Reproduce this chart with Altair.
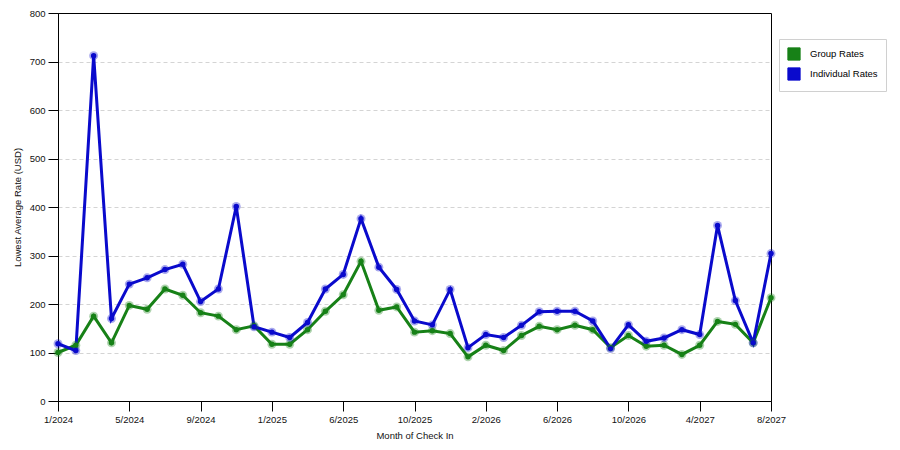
import altair as alt
import pandas as pd

months = [
    "1/2024", "2/2024", "3/2024", "4/2024", "5/2024", "6/2024", "7/2024",
    "8/2024", "9/2024", "10/2024", "11/2024", "12/2024", "1/2025", "2/2025",
    "4/2025", "5/2025", "6/2025", "7/2025", "8/2025", "9/2025", "10/2025",
    "11/2025", "12/2025", "1/2026", "2/2026", "3/2026", "4/2026", "5/2026",
    "6/2026", "7/2026", "8/2026", "9/2026", "10/2026", "11/2026", "1/2027",
    "3/2027", "4/2027", "5/2027", "6/2027", "7/2027", "8/2027",
]
tick_labels = months[::4]

group_rates = [
    100, 115, 175, 120, 197, 189, 231, 218, 182, 175, 147, 155, 117, 117,
    147, 185, 219, 288, 187, 194, 142, 145, 139, 91, 115, 104, 135, 154,
    147, 156, 147, 110, 135, 113, 115, 96, 115, 164, 158, 120, 213,
]
individual_rates = [
    118, 104, 712, 170, 241, 254, 271, 282, 205, 231, 401, 153, 142, 131,
    162, 231, 261, 376, 276, 230, 165, 157, 230, 110, 137, 131, 156, 184,
    185, 185, 165, 108, 157, 123, 130, 147, 137, 362, 207, 120, 304,
]

series = ["Group Rates", "Individual Rates"]
colors = ["#178117", "#0a0acc"]

df = pd.concat([
    pd.DataFrame({"month": months, "series": series[0], "rate": group_rates}),
    pd.DataFrame({"month": months, "series": series[1], "rate": individual_rates}),
])

font = "Liberation Sans"

x = alt.X(
    "month:O",
    sort=months,
    scale=alt.Scale(type="point", padding=0),
    axis=alt.Axis(
        title="Month of Check In", values=tick_labels, labelAngle=0,
        grid=False, tickSize=10, labelPadding=3, titlePadding=7,
    ),
)
y = alt.Y(
    "rate:Q",
    scale=alt.Scale(domain=[0, 800], nice=False),
    axis=alt.Axis(
        title="Lowest Average Rate (USD)", values=list(range(0, 801, 100)),
        tickSize=10, labelPadding=3, titlePadding=7,
        gridDash=[4, 3], gridColor="#d4d4d4",
        gridOpacity={
            "condition": {"test": "datum.value === 0 || datum.value === 800", "value": 0},
            "value": 1,
        },
    ),
)
color = alt.Color(
    "series:N",
    scale=alt.Scale(domain=series, range=colors),
    legend=alt.Legend(
        title=None, orient="none", legendX=721, legendY=26,
        symbolType="square", symbolSize=150, symbolStrokeColor="#222",
        symbolStrokeWidth=1, symbolOpacity=1, padding=8, rowPadding=2,
        strokeColor="#d0d0d0", fillColor="white", labelFontSize=9.5,
        labelFont=font, labelOffset=9,
    ),
)

base = alt.Chart(df).encode(x=x, y=y, color=color)

lines = base.mark_line(strokeWidth=3)
halo = base.mark_circle(size=80, opacity=0.35)
dots = base.mark_circle(size=30, opacity=1)

chart = (
    alt.layer(lines, halo, dots)
    .properties(
        width=713, height=388, autosize="none",
        padding={"left": 50, "top": 5, "right": 121, "bottom": 41},
    )
    .configure_view(stroke="black", strokeWidth=1)
    .configure_axis(
        labelFont=font, titleFont=font, labelFontSize=9.5, titleFontSize=9.5,
        titleFontWeight="normal", domainColor="black", tickColor="black",
        labelColor="#111", titleColor="#111",
    )
)

chart.save("out.html", embed_options={"renderer": "svg", "actions": False})
